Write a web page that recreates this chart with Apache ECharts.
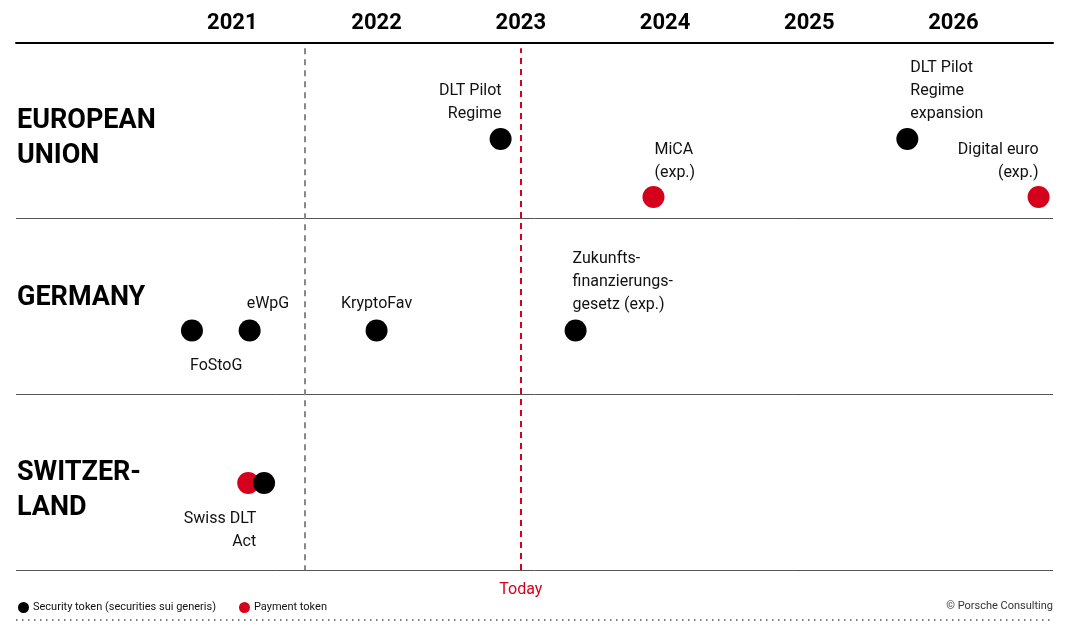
<!DOCTYPE html>
<html>
<head>
<meta charset="utf-8">
<script src="https://cdn.jsdelivr.net/npm/echarts@6/dist/echarts.min.js"></script>
<style>
html,body{margin:0;padding:0;background:#fff;}
#chart{width:1068px;height:629px;}
</style>
</head>
<body>
<div id="chart"></div>
<script>
// ---- data ----
const yearLabels = [2021, 2022, 2023, 2024, 2025, 2026];
const regions = ['EUROPEAN\nUNION', 'GERMANY', 'SWITZER-\nLAND'];
// [year, lane position (0 = top of EU band, 3 = bottom of Switzerland band), label]
const securityTokens = [
  [2022.86, 0.547, 'DLT Pilot\nRegime'],
  [2025.68, 0.547, 'DLT Pilot\nRegime\nexpansion'],
  [2020.72, 1.637, 'FoStoG'],
  [2021.12, 1.637, 'eWpG'],
  [2022.00, 1.637, 'KryptoFav'],
  [2023.38, 1.637, 'Zukunfts-\nfinanzierungs-\ngesetz (exp.)'],
  [2021.22, 2.505, '']
];
const paymentTokens = [
  [2023.92, 0.877, 'MiCA\n(exp.)'],
  [2026.59, 0.877, 'Digital euro\n(exp.)'],
  [2021.11, 2.505, 'Swiss DLT\nAct']
];
const dividerYear = 2021.5;
const todayYear = 2023.0;
const seriesNames = ['Security token (securities sui generis)', 'Payment token'];

// ---- label layout (styling) ----
const labelLayout = {
  'DLT Pilot\nRegime': {position: [12, -3], align: 'right', verticalAlign: 'bottom'},
  'DLT Pilot\nRegime\nexpansion': {position: [14, -3], align: 'left', verticalAlign: 'bottom'},
  'FoStoG': {position: [9, 35], align: 'left', verticalAlign: 'top'},
  'eWpG': {position: [8, -4], align: 'left', verticalAlign: 'bottom'},
  'KryptoFav': {position: [11, -4], align: 'center', verticalAlign: 'bottom'},
  'Zukunfts-\nfinanzierungs-\ngesetz (exp.)': {position: [8, -3], align: 'left', verticalAlign: 'bottom'},
  'MiCA\n(exp.)': {position: [12, -2], align: 'left', verticalAlign: 'bottom'},
  'Digital euro\n(exp.)': {position: [11, -2], align: 'right', verticalAlign: 'bottom'},
  'Swiss DLT\nAct': {position: [19, 35], align: 'right', verticalAlign: 'top'}
};
const regionTops = [104, 281, 456];

const RED = '#d5001c';
const FONT = 'Roboto, "Noto Sans", sans-serif';

function toItems(arr) {
  return arr.map(d => {
    const item = {value: [d[0], d[1]], name: d[2]};
    if (d[2]) {
      item.label = Object.assign({show: true, formatter: '{b}'}, labelLayout[d[2]]);
    } else {
      item.label = {show: false};
    }
    return item;
  });
}

const chart = echarts.init(document.getElementById('chart'));
const labelStyle = {show: true, color: '#111', fontSize: 16, lineHeight: 23, fontFamily: FONT};

chart.setOption({
  animation: false,
  backgroundColor: '#fff',
  grid: {left: 16, right: 15, top: 43, bottom: 59, containLabel: false},
  xAxis: {
    type: 'value', position: 'top', min: 2019.5, max: 2026.69, interval: 0.5,
    axisLine: {show: true, lineStyle: {color: '#000', width: 2}},
    axisTick: {show: false},
    splitLine: {show: false},
    axisLabel: {
      showMinLabel: false, showMaxLabel: false, margin: 9,
      color: '#000', fontSize: 22, fontWeight: 'bold', fontFamily: FONT,
      formatter: v => (Number.isInteger(v) && yearLabels.indexOf(v) >= 0) ? String(v) : ''
    }
  },
  yAxis: {
    type: 'value', min: 0, max: regions.length, interval: 1, inverse: true,
    axisLine: {show: false}, axisTick: {show: false}, axisLabel: {show: false},
    splitLine: {show: true, lineStyle: {color: '#555', width: 1}}
  },
  legend: {
    left: 13, top: 597, icon: 'circle', itemWidth: 11, itemHeight: 11, itemGap: 23,
    data: seriesNames,
    textStyle: {color: '#111', fontSize: 11, fontFamily: FONT, padding: [0, 0, 0, -1]}
  },
  graphic: [
    ...regions.map((r, i) => ({
      type: 'text', left: 17, top: regionTops[i], silent: true,
      style: {text: r, fill: '#000', font: 'bold 27px ' + FONT, lineHeight: 35}
    })),
    {type: 'text', right: 15, top: 601, silent: true,
     style: {text: '© Porsche Consulting', fill: '#333', font: '11px ' + FONT}},
    {type: 'line', silent: true,
     shape: {x1: 16, y1: 620, x2: 1053, y2: 620},
     style: {stroke: '#555', lineWidth: 1.5, lineDash: [1.5, 4.5]}}
  ],
  series: [
    {
      name: seriesNames[1], type: 'scatter', symbolSize: 22,
      itemStyle: {color: RED, opacity: 1},
      label: labelStyle,
      data: toItems(paymentTokens),
      z: 3,
      markLine: {
        silent: true, symbol: 'none', animation: false,
        data: [
          [{coord: [dividerYear, 0.03], lineStyle: {color: '#888', type: [6, 5], width: 2}, label: {show: false}},
           {coord: [dividerYear, regions.length]}],
          [{coord: [todayYear, regions.length], lineStyle: {color: RED, type: [6, 5], width: 2},
            label: {show: true, position: 'start', formatter: 'Today', color: RED, fontSize: 16, fontFamily: FONT, distance: 12}},
           {coord: [todayYear, 0.03]}]
        ]
      }
    },
    {
      name: seriesNames[0], type: 'scatter', symbolSize: 22,
      itemStyle: {color: '#000', opacity: 1},
      label: labelStyle,
      data: toItems(securityTokens),
      z: 4
    }
  ]
});
</script>
</body>
</html>
